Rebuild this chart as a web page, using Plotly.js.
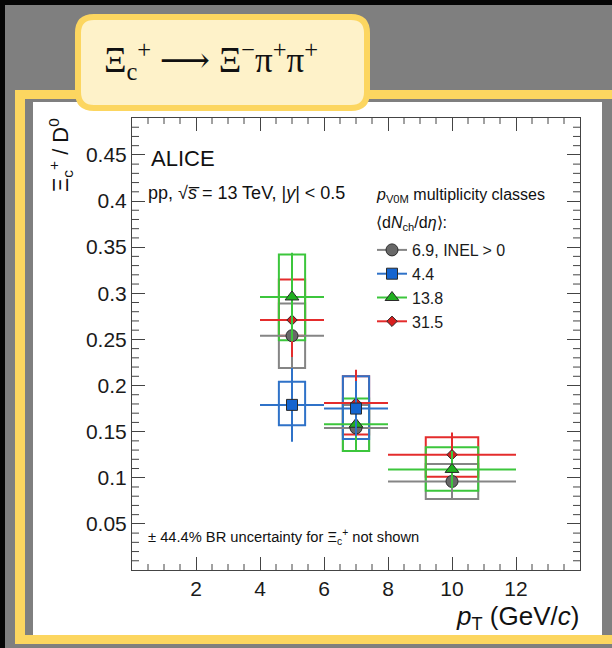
<!DOCTYPE html>
<html>
<head>
<meta charset="utf-8">
<script src="https://cdn.plot.ly/plotly-3.0.1.min.js"></script>
<style>
  html, body { margin: 0; padding: 0; background: #7f7f7f; }
  #chart { width: 612px; height: 648px; }
</style>
</head>
<body>
<div id="chart"></div>
<script>
// ---------------- data ----------------
const seriesNames = ["6.9, INEL > 0", "4.4", "13.8", "31.5"];

const grayX = [5, 7, 10];
const grayY = [0.254, 0.154, 0.096];
const grayXErr = [1, 1, 2];
const grayStat = [0.035, 0.02, 0.02];
const graySysHi = [0.035, 0.025, 0.019];
const graySysLo = [0.035, 0.025, 0.019];

const blueX = [5, 7];
const blueY = [0.179, 0.175];
const blueXErr = [1, 1];
const blueStat = [0.040, 0.030];
const blueSysHi = [0.025, 0.035];
const blueSysLo = [0.022, 0.033];

const greenX = [5, 7, 10];
const greenY = [0.296, 0.158, 0.109];
const greenXErr = [1, 1, 2];
const greenStat = [0.048, 0.030, 0.020];
const greenSysHi = [0.046, 0.028, 0.024];
const greenSysLo = [0.047, 0.029, 0.023];

const redX = [5, 7, 10];
const redY = [0.271, 0.181, 0.125];
const redXErr = [1, 1, 2];
const redStat = [0.040, 0.036, 0.024];
const redSysHi = [0.044, 0.029, 0.019];
const redSysLo = [0.017, 0.034, 0.024];

const xTicks = [2, 4, 6, 8, 10, 12];
const yTicks = [0.05, 0.1, 0.15, 0.2, 0.25, 0.3, 0.35, 0.4, 0.45];
const yTickText = ["0.05", "0.1", "0.15", "0.2", "0.25", "0.3", "0.35", "0.4", "0.45"];

// ---------------- styles ----------------
const series = [
  {name: seriesNames[0], x: grayX, y: grayY, xe: grayXErr, st: grayStat, hi: graySysHi, lo: graySysLo,
   line: "#858585", fill: "#686868", symbol: "circle", size: 12},
  {name: seriesNames[1], x: blueX, y: blueY, xe: blueXErr, st: blueStat, hi: blueSysHi, lo: blueSysLo,
   line: "#2f72c8", fill: "#1565d0", symbol: "square", size: 11},
  {name: seriesNames[2], x: greenX, y: greenY, xe: greenXErr, st: greenStat, hi: greenSysHi, lo: greenSysLo,
   line: "#3cc63c", fill: "#20b020", symbol: "triangle-up", size: 12},
  {name: seriesNames[3], x: redX, y: redY, xe: redXErr, st: redStat, hi: redSysHi, lo: redSysLo,
   line: "#e42c2c", fill: "#d81e1e", symbol: "diamond", size: 8}
];
const drawOrder = [0, 3, 2, 1];

const ML = 132, MR = 32, MT = 118, MB = 78, W = 612, H = 648;
const PW = W - ML - MR, PH = H - MT - MB;
const PX = p => (p - ML) / PW;
const PY = p => (H - MB - p) / PH;
const X_RANGE = [0, 14], Y_RANGE = [0, 0.49];
const X_MINOR = 0.5, Y_MINOR = 0.01;

const traces = [];
const shapes = [];

// decorative frame (paper coordinates from pixel positions)
function rectPx(x0, y0, x1, y1, fill) {
  return {type: "rect", xref: "paper", yref: "paper", layer: "below",
          x0: PX(x0), x1: PX(x1), y0: PY(y1), y1: PY(y0),
          fillcolor: fill, line: {width: 0}};
}
shapes.push(rectPx(0, 0, 612, 5, "#050505"));
shapes.push(rectPx(0, 0, 5, 648, "#050505"));
shapes.push(rectPx(15, 90, 640, 644, "#fcd660"));
shapes.push(rectPx(25, 99, 612, 635, "#7f7f7f"));
shapes.push(rectPx(33, 102, 602, 635, "#ffffff"));
// rounded title box
(function () {
  const x0 = 78, x1 = 367, y0 = 17, y1 = 108, r = 16;
  const pts = `M${PX(x0 + r)},${PY(y0)} L${PX(x1 - r)},${PY(y0)} Q${PX(x1)},${PY(y0)} ${PX(x1)},${PY(y0 + r)} ` +
    `L${PX(x1)},${PY(y1 - r)} Q${PX(x1)},${PY(y1)} ${PX(x1 - r)},${PY(y1)} L${PX(x0 + r)},${PY(y1)} ` +
    `Q${PX(x0)},${PY(y1)} ${PX(x0)},${PY(y1 - r)} L${PX(x0)},${PY(y0 + r)} Q${PX(x0)},${PY(y0)} ${PX(x0 + r)},${PY(y0)} Z`;
  shapes.push({type: "path", xref: "paper", yref: "paper", layer: "below", path: pts,
               fillcolor: "#fef2c9", line: {color: "#fcd660", width: 6}});
})();

// minor ticks (axis-referenced, inside, on all four sides)
const tickLine = {color: "#444", width: 1};
for (let k = 1; k * X_MINOR < X_RANGE[1]; k++) {
  const v = k * X_MINOR;
  if (xTicks.includes(v)) continue;
  shapes.push({type: "line", xref: "x", yref: "paper", x0: v, x1: v, y0: 0, y1: 6 / PH, line: tickLine});
  shapes.push({type: "line", xref: "x", yref: "paper", x0: v, x1: v, y0: 1 - 6 / PH, y1: 1, line: tickLine});
}
for (let k = 1; k * Y_MINOR < Y_RANGE[1] - 1e-9; k++) {
  const v = Math.round(k * Y_MINOR * 1000) / 1000;
  if (yTicks.some(t => Math.abs(t - v) < 1e-9)) continue;
  shapes.push({type: "line", xref: "paper", yref: "y", x0: 0, x1: 7 / PW, y0: v, y1: v, line: tickLine});
  shapes.push({type: "line", xref: "paper", yref: "y", x0: 1 - 7 / PW, x1: 1, y0: v, y1: v, line: tickLine});
}

// systematic boxes (data coordinates)
drawOrder.forEach(i => {
  const s = series[i];
  s.x.forEach((xv, j) => {
    const hw = 0.41 * s.xe[j];
    shapes.push({type: "rect", xref: "x", yref: "y", layer: "below",
                 x0: xv - hw, x1: xv + hw, y0: s.y[j] - s.lo[j], y1: s.y[j] + s.hi[j],
                 line: {color: s.line, width: 2}, fillcolor: "rgba(0,0,0,0)"});
  });
});

// data points with stat errors
drawOrder.forEach(i => {
  const s = series[i];
  traces.push({
    type: "scatter", mode: "markers", x: s.x, y: s.y, showlegend: false, hoverinfo: "skip",
    marker: {symbol: s.symbol, size: s.size, color: s.fill, line: {color: "#2a2a2a", width: 1}},
    error_x: {type: "data", array: s.xe, color: s.line, thickness: 2, width: 0},
    error_y: {type: "data", array: s.st, color: s.line, thickness: 2, width: 0}
  });
});
// legend entries
series.forEach(s => {
  traces.push({
    type: "scatter", mode: "lines+markers", x: [null], y: [null], name: s.name, showlegend: true,
    line: {color: s.line, width: 2},
    marker: {symbol: s.symbol, size: s.size, color: s.fill, line: {color: "#2a2a2a", width: 1}}
  });
});

const FONT = "Liberation Sans, Arial, Helvetica, sans-serif";
const axisCommon = {
  showgrid: false, zeroline: false, showline: true, linecolor: "#444", linewidth: 1,
  mirror: "ticks", ticks: "inside", ticklen: 13, tickwidth: 1, tickcolor: "#444",
  tickfont: {family: FONT, size: 21, color: "#1a1a1a"}, fixedrange: true
};

const layout = {
  width: W, height: H,
  margin: {l: ML, r: MR, t: MT, b: MB, pad: 0},
  paper_bgcolor: "#7f7f7f", plot_bgcolor: "#ffffff",
  showlegend: true,
  title: {
    text: "Ξ<sub>c</sub><sup>+</sup> ⟶ Ξ<sup>−</sup>π<sup>+</sup>π<sup>+</sup>",
    font: {family: "Liberation Serif, DejaVu Serif, serif", size: 35, color: "#111"},
    xref: "container", yref: "container", x: 211 / W, xanchor: "center", y: 1 - 60 / H, yanchor: "middle"
  },
  xaxis: Object.assign({}, axisCommon, {
    range: X_RANGE, tickmode: "array", tickvals: xTicks, ticktext: xTicks.map(String)
  }),
  yaxis: Object.assign({}, axisCommon, {
    range: Y_RANGE, tickmode: "array", tickvals: yTicks, ticktext: yTickText
  }),
  legend: {
    x: PX(372), y: PY(233), xanchor: "left", yanchor: "top",
    bgcolor: "rgba(0,0,0,0)", borderwidth: 0,
    font: {family: FONT, size: 16, color: "#1a1a1a"}
  },
  shapes: shapes,
  annotations: [
    {xref: "paper", yref: "paper", x: PX(149), y: PY(158), xanchor: "left", yanchor: "middle",
     text: "ALICE", showarrow: false, font: {family: FONT, size: 22, color: "#111"}},
    {xref: "paper", yref: "paper", x: PX(146), y: PY(193), xanchor: "left", yanchor: "middle",
     text: "pp, √<i>s̅</i> = 13 TeV, |<i>y</i>| &lt; 0.5", showarrow: false,
     font: {family: FONT, size: 18, color: "#111"}},
    {xref: "paper", yref: "paper", x: PX(374), y: PY(195), xanchor: "left", yanchor: "middle",
     text: "<i>p</i><sub>V0M</sub> multiplicity classes", showarrow: false,
     font: {family: FONT, size: 16, color: "#111"}},
    {xref: "paper", yref: "paper", x: PX(374), y: PY(223), xanchor: "left", yanchor: "middle",
     text: "⟨d<i>N</i><sub>ch</sub>/d<i>η</i>⟩:", showarrow: false,
     font: {family: FONT, size: 16, color: "#111"}},
    {xref: "paper", yref: "paper", x: PX(146), y: PY(537), xanchor: "left", yanchor: "middle",
     text: "± 44.4% BR uncertainty for Ξ<sub>c</sub><sup>+</sup> not shown", showarrow: false,
     font: {family: FONT, size: 14.7, color: "#111"}},
    {xref: "paper", yref: "paper", x: PX(581), y: PY(599), xanchor: "right", yanchor: "top",
     text: "<i>p</i><sub>T</sub> (GeV/<i>c</i>)", showarrow: false,
     font: {family: FONT, size: 26, color: "#111"}},
    {xref: "paper", yref: "paper", x: PX(60), y: PY(116), xanchor: "center", yanchor: "top",
     textangle: -90, text: "Ξ<sub>c</sub><sup>+</sup> / D<sup>0</sup>", showarrow: false,
     font: {family: FONT, size: 22, color: "#111"}}
  ]
};

Plotly.newPlot("chart", traces, layout, {staticPlot: true, displayModeBar: false});
</script>
</body>
</html>
